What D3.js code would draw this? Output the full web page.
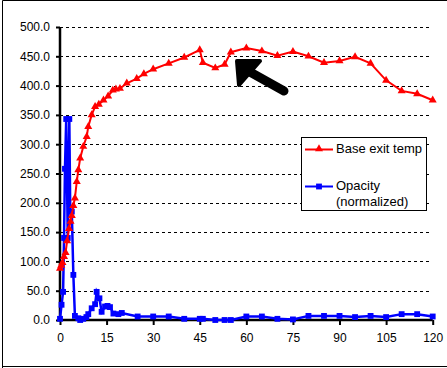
<!DOCTYPE html>
<html><head><meta charset="utf-8">
<script src="https://cdn.jsdelivr.net/npm/d3@7"></script>
<style>
html,body{margin:0;padding:0;background:#fff;}
svg{display:block;}
text{font-family:"Liberation Sans",Arial,sans-serif;}
</style></head>
<body>
<svg id="c" width="447" height="368"></svg>
<script>
// ---- data ----
const seriesNames = ["Base exit temp", "Opacity", "(normalized)"];
const yTicks = [0, 50, 100, 150, 200, 250, 300, 350, 400, 450, 500];
const xTicks = [0, 15, 30, 45, 60, 75, 90, 105, 120];
const tempTime = [0,0.4,0.8,1.3,1.8,2.3,2.9,3.4,3.8,4.3,4.8,5.4,5.9,6.5,7.5,8.6,9.1,10.2,11.3,12.5,14,15.5,17,18,19.3,21.5,24.7,27,30,35,40,45,46,50,53,55,60,65,70,75,80,85,90,95,100,105,110,115,120];
const tempVal  = [88,93,98,108,115,135,156,168,178,195,208,236,256,276,296,313,330,350,364,368,375,382,392,394,395,404,412,420,428,438,448,461,439,430,436,457,464,459,451,458,450,439,442,449,438,409,391,386,375];
const opTime = [0,0.5,1.0,1.3,1.6,2.0,2.5,3.0,3.3,3.8,4.3,4.8,5.9,6.5,7.5,8.5,9.1,10.2,11.3,11.8,12.7,13.4,14.5,15.3,16.1,17.2,18.8,19.9,25,30,35,40,45,46,50,53,55,60,65,70,75,80,85,90,95,100,105,110,115,120];
const opVal  = [2,26,48,140,258,343,140,343,185,185,77,7,3,0,2,5,10,20,27,48,37,14,23,24,22,11,10,12,6,6,6,2,2,2,0,0,0,6,6,2,1,7,7,7,5,7,5,10,10,6];

const svg = d3.select("#c");
const x = d3.scaleLinear().domain([0,120]).range([60,432.7]);
const y = d3.scaleLinear().domain([0,500]).range([320,27]);

// frame
svg.append("path").attr("d","M2.5,368 V0.5 H447 M2,366.5 H447")
  .attr("fill","none").attr("stroke","#000").attr("stroke-width",1);

// gridlines
svg.append("g").selectAll("line").data(yTicks.filter(d=>d>0)).join("line")
  .attr("x1",x(0)).attr("x2",430).attr("y1",d=>Math.round(y(d))+0.5).attr("y2",d=>Math.round(y(d))+0.5)
  .attr("stroke","#000").attr("stroke-width",1).attr("stroke-dasharray","3,3");

// axes
const yAxis = d3.axisLeft(y).tickValues(yTicks).tickFormat(d3.format(".1f")).tickSize(4).tickPadding(6);
const gy = svg.append("g").attr("transform","translate(60,0)").call(yAxis);
const xAxis = d3.axisBottom(x).tickValues(xTicks).tickFormat(d3.format("d")).tickSize(5).tickPadding(8);
const gx = svg.append("g").attr("transform","translate(0,320)").call(xAxis);
[gy,gx].forEach(g=>{
  g.select(".domain").attr("stroke","#000").attr("stroke-width",2.5);
  g.selectAll(".tick line").attr("stroke","#000").attr("stroke-width",2);
  g.selectAll(".tick text").attr("fill","#000").attr("font-size","12px")
   .attr("font-family","'Liberation Sans',Arial,sans-serif");
});
gy.select(".domain").attr("d","M0,"+y(500)+"V"+y(0));
gx.select(".domain").attr("d","M"+x(0)+",0H"+x(120));

// series
const tempData = tempTime.map((t,i)=>[t,tempVal[i]]);
const opData = opTime.map((t,i)=>[t,opVal[i]]);
const line = d3.line().x(d=>x(d[0])).y(d=>y(d[1]));
const tri = d3.symbol().type(d3.symbolTriangle).size(28);
const sq = d3.symbol().type(d3.symbolSquare).size(34);

svg.append("path").datum(opData).attr("d",line).attr("fill","none")
  .attr("stroke","#0000ff").attr("stroke-width",2.5);
svg.append("g").selectAll("path").data(opData).join("path")
  .attr("d",sq).attr("transform",d=>`translate(${x(d[0])},${y(d[1])})`).attr("fill","#0000ff");

svg.append("path").datum(tempData).attr("d",line).attr("fill","none")
  .attr("stroke","#ff0000").attr("stroke-width",2);
svg.append("g").selectAll("path").data(tempData).join("path")
  .attr("d",tri).attr("transform",d=>`translate(${x(d[0])},${y(d[1])})`).attr("fill","#ff0000");

// legend
const lg = svg.append("g");
lg.append("rect").attr("x",301.5).attr("y",137.5).attr("width",125).attr("height",73)
  .attr("fill","#fff").attr("stroke","#000").attr("stroke-width",1);
lg.append("line").attr("x1",305).attr("x2",333).attr("y1",149.5).attr("y2",149.5)
  .attr("stroke","#ff0000").attr("stroke-width",2);
lg.append("path").attr("d",tri).attr("transform","translate(319,149)").attr("fill","#ff0000");
lg.append("text").attr("x",336).attr("y",153).attr("font-size","13px").text(seriesNames[0]);
lg.append("line").attr("x1",305).attr("x2",333).attr("y1",186.5).attr("y2",186.5)
  .attr("stroke","#0000ff").attr("stroke-width",2);
lg.append("path").attr("d",sq).attr("transform","translate(319,186.5)").attr("fill","#0000ff");
lg.append("text").attr("x",336).attr("y",190).attr("font-size","13px").text(seriesNames[1]);
lg.append("text").attr("x",336).attr("y",206).attr("font-size","13px").text(seriesNames[2]);

// annotation arrow
svg.append("path").attr("d","M250,72 L284,91").attr("stroke","#000").attr("stroke-width",9)
  .attr("stroke-linecap","round");
svg.append("path").attr("d","M237,61 L260,61 L239,85 Z").attr("fill","#000")
  .attr("stroke","#000").attr("stroke-width",4).attr("stroke-linejoin","round");
</script>
</body></html>
